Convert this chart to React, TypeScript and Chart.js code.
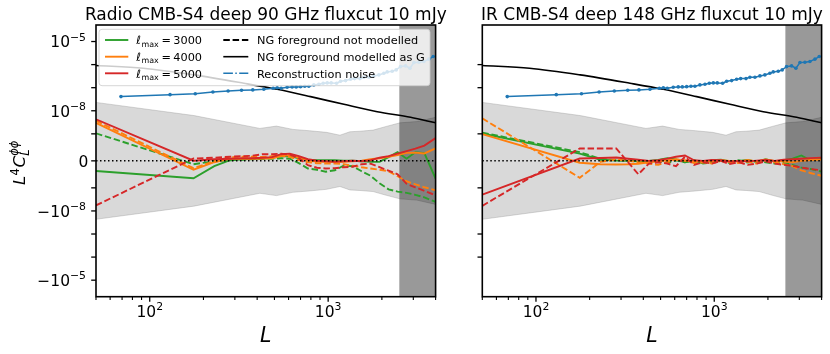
import React, { useEffect, useRef } from 'react';
import { Chart, registerables, Scale } from 'chart.js';

Chart.register(...registerables);

const W = 830;
const H = 354;
const FONT = "'DejaVu Sans', 'Liberation Sans', sans-serif";

// ---------- axis ranges ----------
const X_MIN = 50;
const X_MAX = 4000;
const Y_LIM = 5.2e-5;
const LINTHRESH = 1e-9;
const LINSCALE = 1.17;
const L_CUT = 2500;
// all y values below are in units of 1e-9
const Y_UNIT = 1e-9;

// ---------- error band (1 sigma) ----------
const L_BAND = [50, 177, 414, 513, 634, 788, 978, 1164, 1324, 1508, 1788, 2117, 2525, 3135, 4000];
const SIGMA_BAND = [23, 6.2, 1.72, 2.17, 1.56, 1.36, 1.16, 0.95, 1.23, 1.3, 1.45, 2.1, 3.0, 3.4, 5.2];

// ---------- reconstruction noise ----------
const L_NOISE = [69, 130, 180, 226, 275, 327, 378, 436, 492, 518, 545, 589, 628, 662, 700, 740, 779, 831, 887, 938, 988, 1040, 1114, 1174, 1252, 1335, 1406, 1507, 1585, 1691, 1804, 1923, 2051, 2142, 2285, 2405, 2545, 2715, 2871, 3025, 3225, 3440, 3670, 3880];
const NOISE = [41, 50, 55, 65, 72, 77, 80, 85, 94, 100, 94, 104, 108, 108, 111, 115, 115, 132, 141, 156, 161, 161, 156, 190, 203, 232, 248, 248, 284, 284, 324, 358, 424, 483, 516, 590, 820, 880, 700, 1230, 1270, 1360, 1720, 2240];

// ---------- signal ----------
const L_SIGNAL = [50, 92, 177, 337, 518, 797, 1225, 1884, 2897, 4000];
const SIGNAL = [910, 700, 360, 156, 85, 41, 19, 9.1, 5.2, 3.0];

// ---------- bias curves ----------
const L_BINS = [50, 176, 230, 282, 330, 375, 430, 485, 545, 610, 685, 770, 865, 970, 1090, 1220, 1370, 1540, 1730, 1940, 2180, 2450, 2750, 3080, 3460, 4000];

// Radio, modelled as G (solid) / not modelled (dashed)
const RADIO_3000_G = [-0.373, -0.645, -0.199, 0.024, 0.061, 0.08, 0.087, 0.117, 0.173, 0.173, 0.098, 0.043, 0.024, 0.024, 0.024, 0.006, 0.006, -0.013, -0.032, -0.039, 0.136, 0.321, 0.08, 0.321, 0.284, -0.656];
const RADIO_3000_NG = [1.05, -0.124, -0.013, 0.024, 0.043, 0.061, 0.08, 0.08, 0.098, 0.08, -0.087, -0.284, -0.329, -0.403, -0.347, -0.18, -0.199, -0.385, -0.552, -0.831, -1.16, -1.45, -1.64, -2.0, -2.57, -4.1];
const RADIO_4000_G = [3.0, -0.329, -0.05, 0.08, 0.08, 0.08, 0.087, 0.098, 0.173, 0.21, 0.117, 0.024, -0.032, -0.039, -0.039, -0.032, -0.013, 0.006, 0.061, 0.098, 0.154, 0.21, 0.295, 0.303, 0.273, 0.459];
const RADIO_4000_NG = [3.7, -0.273, -0.013, 0.136, 0.154, 0.154, 0.147, 0.173, 0.19, 0.147, 0.024, -0.05, -0.087, -0.098, -0.098, -0.124, -0.18, -0.236, -0.284, -0.329, -0.385, -0.57, -0.756, -0.868, -0.979, -1.28];
const RADIO_5000_G = [4.25, 0.006, 0.061, 0.08, 0.098, 0.098, 0.117, 0.136, 0.247, 0.266, 0.173, 0.061, 0.006, -0.013, -0.032, -0.013, 0.006, -0.013, 0.024, 0.117, 0.173, 0.266, 0.359, 0.452, 0.563, 0.842];
const RADIO_5000_NG = [-5.73, 0.087, 0.117, 0.154, 0.173, 0.19, 0.247, 0.247, 0.266, 0.229, 0.098, -0.162, -0.255, -0.284, -0.273, -0.236, -0.217, -0.124, -0.106, -0.236, -0.366, -0.496, -0.849, -0.979, -1.34, -2.1];

// IR, modelled as G (solid) / not modelled (dashed)
const IR_3000_G = [1.04, 0.266, 0.043, 0.013, 0.0, -0.02, 0.0, 0.03, 0.1, 0.05, -0.05, 0.0, -0.08, 0.02, 0.04, -0.02, 0.0, 0.03, -0.04, 0.06, -0.02, 0.02, 0.08, 0.2, 0.02, 0.08];
const IR_3000_NG = [1.13, 0.321, 0.08, 0.02, 0.02, -0.04, -0.05, 0.0, -0.08, 0.02, -0.05, 0.03, -0.1, -0.05, 0.0, -0.08, 0.02, -0.06, 0.0, -0.05, -0.1, -0.08, -0.15, -0.25, -0.3, -0.4];
const IR_4000_G = [0.99, -0.069, -0.124, -0.136, -0.124, -0.106, -0.05, -0.02, 0.02, 0.05, 0.0, -0.02, 0.0, -0.03, 0.02, 0.0, -0.03, 0.03, -0.02, 0.05, 0.0, -0.03, -0.05, 0.0, 0.03, 0.05];
const IR_4000_NG = [4.69, -0.626, -0.039, 0.05, 0.0, -0.05, -0.1, -0.15, -0.05, 0.05, 0.02, -0.08, -0.05, -0.1, 0.0, -0.05, -0.08, -0.03, -0.1, 0.02, -0.05, -0.12, -0.2, -0.35, -0.45, -0.55];
const IR_5000_G = [-1.96, 0.087, 0.106, 0.124, 0.08, 0.043, 0.0, 0.02, 0.08, 0.15, 0.2, 0.02, 0.0, 0.03, 0.02, -0.03, 0.0, -0.02, 0.01, 0.03, 0.0, 0.04, 0.06, 0.08, 0.1, 0.12];
const IR_5000_NG = [-6.0, 0.459, 0.459, 0.459, -0.065, -0.496, -0.1, -0.05, -0.1, -0.2, 0.15, -0.15, -0.05, -0.1, 0.0, -0.12, -0.05, -0.15, -0.1, -0.02, -0.1, -0.15, -0.18, -0.25, -0.3, -0.35];

// ---------- text ----------
const TITLES = ['Radio CMB-S4 deep 90 GHz fluxcut 10 mJy', 'IR CMB-S4 deep 148 GHz fluxcut 10 mJy'];
const LMAX_LABELS = ['3000', '4000', '5000'];
const STYLE_LABELS = ['NG foreground not modelled', 'NG foreground modelled as G', 'Reconstruction noise'];
const X_LABEL = 'L';

// ---------- ticks ----------
const X_MAJOR = [100, 1000];
const X_MAJOR_LABELS = ['10^2', '10^3'];
const X_MINOR = [50, 60, 70, 80, 90, 200, 300, 400, 500, 600, 700, 800, 900, 2000, 3000, 4000];
const Y_LABELED = [1e-5, 1e-8, 0, -1e-8, -1e-5];
const Y_LABELS = ['10^\u22125', '10^\u22128', '0', '\u221210^\u22128', '\u221210^\u22125'];
const Y_OTHER = [1e-6, 1e-7, 1e-9, -1e-9, -1e-7, -1e-6];

const COLORS = { green: '#2ca02c', orange: '#ff7f0e', red: '#d62728', blue: '#1f77b4' };
const LMAX_COLORS = [COLORS.green, COLORS.orange, COLORS.red];
const BAND_COLOR = 'rgba(128,128,128,0.3)';

// ---------- symlog scale ----------
class SymlogScale extends Scale {
  static id = 'symlog';
  static defaults = {};
  tf(v: number) {
    const T = (this.options as any).linthresh;
    const A = (this.options as any).linscale;
    const a = Math.abs(v);
    return a <= T ? (v / T) * A : Math.sign(v) * (A + Math.log10(a / T));
  }
  itf(u: number) {
    const T = (this.options as any).linthresh;
    const A = (this.options as any).linscale;
    const a = Math.abs(u);
    return a <= A ? (u / A) * T : Math.sign(u) * T * Math.pow(10, a - A);
  }
  determineDataLimits() {
    this.min = (this.options as any).min;
    this.max = (this.options as any).max;
  }
  buildTicks() {
    return [];
  }
  configure() {
    super.configure();
    (this as any)._u0 = this.tf(this.min);
    (this as any)._u1 = this.tf(this.max);
  }
  getPixelForValue(v: number) {
    const u0 = (this as any)._u0, u1 = (this as any)._u1;
    return this.getPixelForDecimal((this.tf(v) - u0) / (u1 - u0));
  }
  getValueForPixel(p: number) {
    const u0 = (this as any)._u0, u1 = (this as any)._u1;
    return this.itf(u0 + this.getDecimalForPixel(p) * (u1 - u0));
  }
  getLabelForValue(v: number) {
    return String(v);
  }
}
Chart.register(SymlogScale as any);

const pts = (xs: number[], ys: number[], unit = Y_UNIT) => xs.map((x, i) => ({ x, y: ys[i] * unit }));

type PanelDef = {
  title: string;
  area: { left: number; right: number; top: number; bottom: number };
  curves: { g: number[]; ng: number[] }[];
  showYLabels: boolean;
  legend: boolean;
};

const PANELS: PanelDef[] = [
  {
    title: TITLES[0],
    area: { left: 96, right: 435.6, top: 25, bottom: 296.7 },
    curves: [
      { g: RADIO_3000_G, ng: RADIO_3000_NG },
      { g: RADIO_4000_G, ng: RADIO_4000_NG },
      { g: RADIO_5000_G, ng: RADIO_5000_NG },
    ],
    showYLabels: true,
    legend: true,
  },
  {
    title: TITLES[1],
    area: { left: 482.3, right: 821.6, top: 25, bottom: 296.7 },
    curves: [
      { g: IR_3000_G, ng: IR_3000_NG },
      { g: IR_4000_G, ng: IR_4000_NG },
      { g: IR_5000_G, ng: IR_5000_NG },
    ],
    showYLabels: false,
    legend: false,
  },
];

const LW = 1.9;
const DASH = [6.5, 2.8];

function drawSci(ctx: CanvasRenderingContext2D, label: string, x: number, y: number, align: 'right' | 'center', size: number) {
  const parts = label.split('^');
  const base = parts[0];
  const exp = parts[1];
  const es = size * 0.7;
  ctx.font = `${size}px ${FONT}`;
  const wb = ctx.measureText(base).width;
  let we = 0;
  if (exp) {
    ctx.font = `${es}px ${FONT}`;
    we = ctx.measureText(exp).width;
  }
  const total = wb + we;
  const x0 = align === 'right' ? x - total : x - total / 2;
  ctx.textAlign = 'left';
  ctx.textBaseline = 'alphabetic';
  ctx.font = `${size}px ${FONT}`;
  ctx.fillText(base, x0, y);
  if (exp) {
    ctx.font = `${es}px ${FONT}`;
    ctx.fillText(exp, x0 + wb, y - size * 0.42);
  }
}

function makeAxesPlugin(panel: PanelDef) {
  return {
    id: 'mplAxes',
    afterDraw(chart: any) {
      const ctx: CanvasRenderingContext2D = chart.ctx;
      const { left, right, top, bottom } = chart.chartArea;
      const xs = chart.scales.x;
      const ys = chart.scales.y;
      ctx.save();
      ctx.fillStyle = '#000';
      ctx.strokeStyle = '#000';

      // legend
      if (panel.legend) {
        const lx = 99, ly = 29.3, lw = 331, lh = 56.4;
        ctx.beginPath();
        (ctx as any).roundRect(lx, ly, lw, lh, 3);
        ctx.fillStyle = 'rgba(255,255,255,0.8)';
        ctx.fill();
        ctx.strokeStyle = 'rgba(204,204,204,0.8)';
        ctx.lineWidth = 1;
        ctx.stroke();
        const rows = [40, 56.7, 73.3];
        const fs = 11.3;
        rows.forEach((ry, i) => {
          // col 1 : lmax
          ctx.beginPath();
          ctx.setLineDash([]);
          ctx.strokeStyle = LMAX_COLORS[i];
          ctx.lineWidth = LW;
          ctx.moveTo(105, ry);
          ctx.lineTo(128.3, ry);
          ctx.stroke();
          ctx.fillStyle = '#000';
          ctx.textAlign = 'left';
          ctx.textBaseline = 'alphabetic';
          let tx = 136.3;
          const by = ry + 4.3;
          ctx.font = `italic ${fs}px ${FONT}`;
          ctx.fillText('\u2113', tx, by);
          tx += ctx.measureText('\u2113').width + 0.6;
          ctx.font = `${fs * 0.7}px ${FONT}`;
          ctx.fillText('max', tx, by + 2.4);
          tx += ctx.measureText('max').width + 2.8;
          ctx.font = `${fs}px ${FONT}`;
          ctx.fillText('=', tx, by);
          tx += ctx.measureText('=').width + 2.2;
          ctx.fillText(LMAX_LABELS[i], tx, by);
          // col 2 : styles
          ctx.beginPath();
          if (i === 0) {
            ctx.strokeStyle = '#000';
            ctx.lineWidth = LW;
            ctx.setLineDash(DASH);
          } else if (i === 1) {
            ctx.strokeStyle = '#000';
            ctx.lineWidth = 1.6;
            ctx.setLineDash([]);
          } else {
            ctx.strokeStyle = COLORS.blue;
            ctx.lineWidth = 1.5;
            ctx.setLineDash([9.6, 2.4, 1.5, 2.4]);
          }
          ctx.moveTo(223.3, ry);
          ctx.lineTo(248.3, ry);
          ctx.stroke();
          ctx.setLineDash([]);
          ctx.font = `${fs}px ${FONT}`;
          ctx.fillStyle = '#000';
          ctx.fillText(STYLE_LABELS[i], 257, by);
        });
      }

      // spines
      ctx.setLineDash([]);
      ctx.strokeStyle = '#000';
      ctx.lineWidth = 1.6;
      ctx.strokeRect(left, top, right - left, bottom - top);

      // y ticks
      ctx.lineWidth = 1.3;
      const yTicks = panel.showYLabels ? [...Y_LABELED, ...Y_OTHER] : Y_OTHER;
      yTicks.forEach((v) => {
        const py = ys.getPixelForValue(v);
        ctx.beginPath();
        ctx.moveTo(left - 4.8, py);
        ctx.lineTo(left, py);
        ctx.stroke();
      });
      // x ticks
      X_MAJOR.forEach((L) => {
        const px = xs.getPixelForValue(L);
        ctx.beginPath();
        ctx.moveTo(px, bottom);
        ctx.lineTo(px, bottom + 5);
        ctx.stroke();
      });
      ctx.lineWidth = 1.1;
      X_MINOR.forEach((L) => {
        const px = xs.getPixelForValue(L);
        ctx.beginPath();
        ctx.moveTo(px, bottom);
        ctx.lineTo(px, bottom + 3.2);
        ctx.stroke();
      });

      ctx.fillStyle = '#000';
      const tfs = 15.5;
      // x tick labels
      X_MAJOR.forEach((L, i) => {
        drawSci(ctx, X_MAJOR_LABELS[i], xs.getPixelForValue(L), bottom + 20, 'center', tfs);
      });
      // y tick labels
      if (panel.showYLabels) {
        Y_LABELED.forEach((v, i) => {
          const lab = Y_LABELS[i];
          const py = ys.getPixelForValue(v);
          const xr = lab.includes('^') ? left - 10 : left - 7.6;
          drawSci(ctx, lab, xr, py + 5.8, 'right', tfs);
        });
        // y axis label  L^4 C_L^{phi phi}
        ctx.save();
        ctx.translate(25, 185);
        ctx.rotate(-Math.PI / 2);
        ctx.textAlign = 'left';
        ctx.textBaseline = 'alphabetic';
        let x = 0;
        ctx.font = `italic 16.5px ${FONT}`;
        ctx.fillText('L', x, 0);
        x += ctx.measureText('L').width + 0.3;
        ctx.font = `11.5px ${FONT}`;
        ctx.fillText('4', x, -6.5);
        x += ctx.measureText('4').width + 0.8;
        ctx.font = `italic 16.5px ${FONT}`;
        ctx.fillText('C', x, 0);
        x += ctx.measureText('C').width;
        ctx.font = `italic 11.5px ${FONT}`;
        ctx.fillText('L', x, 3.5);
        ctx.fillText('\u03d5\u03d5', x, -7);
        ctx.restore();
      }

      // title
      ctx.font = `17px ${FONT}`;
      ctx.textAlign = 'center';
      ctx.textBaseline = 'alphabetic';
      ctx.fillText(panel.title, (left + right) / 2, 20);

      // x label
      ctx.font = `italic 20.5px ${FONT}`;
      ctx.fillText(X_LABEL, (left + right) / 2, 341.7);

      ctx.restore();
    },
  };
}

function makeConfig(panel: PanelDef): any {
  const datasets: any[] = [
    {
      data: pts(L_BAND, SIGMA_BAND),
      fill: '+1',
      backgroundColor: BAND_COLOR,
      borderColor: BAND_COLOR,
      borderWidth: 1,
      pointRadius: 0,
      order: 20,
    },
    {
      data: pts(L_BAND, SIGMA_BAND.map((s) => -s)),
      fill: false,
      borderColor: BAND_COLOR,
      borderWidth: 1,
      pointRadius: 0,
      order: 19,
    },
    {
      data: pts([L_CUT, X_MAX], [Y_LIM, Y_LIM], 1),
      fill: { value: -Y_LIM },
      backgroundColor: 'rgba(0,0,0,0.4)',
      borderWidth: 0,
      borderColor: 'rgba(0,0,0,0)',
      pointRadius: 0,
      order: 18,
    },
  ];
  let order = 17;
  panel.curves.forEach((c, i) => {
    datasets.push({
      data: pts(L_BINS, c.ng),
      borderColor: LMAX_COLORS[i],
      borderWidth: LW,
      borderDash: DASH,
      borderCapStyle: 'butt',
      pointRadius: 0,
      fill: false,
      order: order--,
    });
    datasets.push({
      data: pts(L_BINS, c.g),
      borderColor: LMAX_COLORS[i],
      borderWidth: LW,
      pointRadius: 0,
      fill: false,
      order: order--,
    });
  });
  datasets.push({
    data: pts([X_MIN, X_MAX], [0, 0], 1),
    borderColor: '#000',
    borderWidth: 1.5,
    borderDash: [1.5, 2.5],
    borderCapStyle: 'butt',
    pointRadius: 0,
    fill: false,
    order: 10.5,
  });
  datasets.push({
    data: pts(L_SIGNAL, SIGNAL),
    borderColor: '#000',
    borderWidth: 1.6,
    cubicInterpolationMode: 'monotone',
    pointRadius: 0,
    fill: false,
    order: 10,
  });
  datasets.push({
    data: pts(L_NOISE, NOISE),
    borderColor: COLORS.blue,
    backgroundColor: COLORS.blue,
    borderWidth: 1.5,
    pointRadius: 1.8,
    pointBorderWidth: 0,
    pointBackgroundColor: COLORS.blue,
    fill: false,
    order: 9,
  });

  const a = panel.area;
  return {
    type: 'line',
    data: { datasets },
    options: {
      responsive: false,
      animation: false,
      devicePixelRatio: 1,
      events: [],
      layout: { padding: { left: a.left, top: a.top, right: W - a.right, bottom: H - a.bottom } },
      plugins: { legend: { display: false }, title: { display: false }, tooltip: { enabled: false } },
      scales: {
        x: { type: 'logarithmic', min: X_MIN, max: X_MAX, display: false },
        y: { type: 'symlog', min: -Y_LIM, max: Y_LIM, linthresh: LINTHRESH, linscale: LINSCALE, display: false },
      },
      elements: { line: { tension: 0 } },
    },
    plugins: [makeAxesPlugin(panel)],
  };
}

export default function App() {
  const leftRef = useRef<HTMLCanvasElement>(null);
  const rightRef = useRef<HTMLCanvasElement>(null);
  useEffect(() => {
    const c1 = new Chart(leftRef.current as HTMLCanvasElement, makeConfig(PANELS[0]));
    const c2 = new Chart(rightRef.current as HTMLCanvasElement, makeConfig(PANELS[1]));
    return () => {
      c1.destroy();
      c2.destroy();
    };
  }, []);
  return (
    <div style={{ position: 'fixed', left: 0, top: 0, width: W, height: H, background: '#fff' }}>
      <canvas ref={leftRef} width={W} height={H} style={{ position: 'absolute', left: 0, top: 0 }} />
      <canvas ref={rightRef} width={W} height={H} style={{ position: 'absolute', left: 0, top: 0 }} />
    </div>
  );
}
